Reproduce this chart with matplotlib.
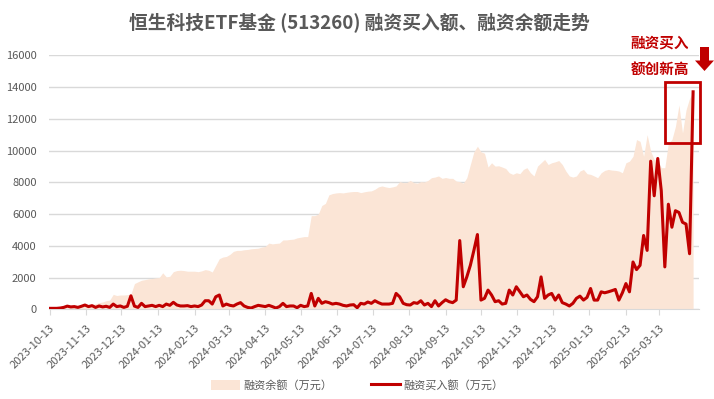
import numpy as np
import pandas as pd
import matplotlib
matplotlib.use("Agg")
import matplotlib.pyplot as plt
import matplotlib.dates as mdates
from matplotlib.patches import Rectangle, Polygon

plt.rcParams['font.family'] = ['Noto Sans CJK SC', 'DejaVu Sans']

# 数据（每3天取一个点，从图中读取）
start_date = '2023-10-13'
balance = [  # 融资余额（万元）
    0, 20, 40, 60, 80, 100, 120, 150, 170, 210,
    230, 270, 310, 350, 420, 460, 540, 580, 940, 870,
    900, 900, 920, 960, 1620, 1730, 1830, 1870, 1920, 1940,
    1980, 2000, 2300, 2040, 2080, 2370, 2440, 2460, 2440, 2400,
    2400, 2400, 2370, 2420, 2500, 2460, 2350, 2770, 3190, 3290,
    3330, 3460, 3650, 3710, 3710, 3750, 3770, 3810, 3830, 3850,
    3920, 3960, 4170, 4120, 4150, 4170, 4370, 4370, 4400, 4420,
    4500, 4540, 4580, 4580, 5900, 5900, 6000, 6540, 6670, 7210,
    7290, 7330, 7350, 7330, 7370, 7400, 7420, 7420, 7350, 7400,
    7440, 7460, 7560, 7710, 7770, 7710, 7670, 7710, 7770, 8040,
    7980, 7980, 8120, 7980, 7940, 8040, 8020, 8120, 8290, 8330,
    8400, 8250, 8300, 8250, 8250, 8080, 8040, 7940, 8290, 9120,
    9920, 10270, 9920, 9830, 8960, 9230, 9020, 9040, 8960, 8870,
    8600, 8500, 8600, 8540, 8810, 8920, 8600, 8400, 9020, 9230,
    9440, 9120, 9230, 9290, 9370, 9120, 8710, 8400, 8330, 8400,
    8710, 8810, 8540, 8500, 8400, 8290, 8600, 8750, 8810, 8770,
    8750, 8710, 8600, 9230, 9330, 9640, 10690, 10580, 9640, 11000,
    9960, 9440, 9370, 8920, 8920, 10480, 10690, 11520, 12870, 11100,
    12560, 13290, 13700,
]
buy = [  # 融资买入额（万元）
    60, 60, 60, 80, 120, 200, 150, 170, 120, 190,
    270, 170, 230, 120, 210, 150, 190, 120, 330, 170,
    210, 120, 190, 850, 200, 120, 375, 170, 210, 250,
    170, 250, 170, 330, 250, 440, 270, 210, 210, 230,
    170, 210, 170, 270, 540, 540, 330, 790, 900, 210,
    330, 250, 210, 330, 420, 210, 120, 80, 170, 250,
    210, 170, 250, 170, 80, 170, 375, 170, 210, 210,
    100, 250, 170, 210, 1000, 210, 690, 375, 480, 420,
    330, 375, 330, 250, 210, 270, 290, 100, 375, 330,
    460, 375, 540, 420, 330, 330, 330, 375, 1000, 790,
    375, 290, 270, 420, 375, 540, 270, 375, 170, 540,
    210, 420, 600, 480, 420, 580, 4330, 1420, 2040, 2770,
    3710, 4710, 580, 690, 1210, 900, 480, 540, 330, 375,
    1210, 900, 1420, 1100, 790, 900, 625, 480, 790, 2040,
    690, 900, 1000, 580, 900, 420, 330, 210, 375, 690,
    830, 580, 750, 1310, 580, 580, 1100, 1040, 1100, 1170,
    1250, 580, 1040, 1620, 1100, 2980, 2500, 2770, 4650, 3710,
    9330, 7150, 9500, 7460, 2670, 6620, 5170, 6210, 6100, 5480,
    5370, 3500, 13700,
]
title = '恒生科技ETF基金 (513260) 融资买入额、融资余额走势'
label_balance = '融资余额（万元）'
label_buy = '融资买入额（万元）'

dates = pd.date_range(start_date, periods=len(balance), freq='3D')
tick_dates = pd.date_range(start_date, '2025-03-13', freq=pd.DateOffset(months=1))

AREA = '#fbe5d6'
RED = '#c00000'
GRAY = '#595959'
GRID = '#d9d9d9'

fig = plt.figure(figsize=(7.14, 3.99), dpi=100)
ax = fig.add_axes([49 / 714, 1 - 309.3 / 399, 650 / 714, (309.3 - 55.3) / 399])

ax.fill_between(dates, balance, 0, color=AREA, lw=0, label=label_balance, zorder=1)
ax.plot(dates, buy, color=RED, lw=2.2, label=label_buy, zorder=3)

ax.set_ylim(0, 16000)
ax.set_yticks(np.arange(0, 16001, 2000))
t0 = pd.Timestamp(start_date)
ax.set_xlim(t0 - pd.Timedelta(days=0.5), t0 + pd.Timedelta(days=551))
ax.set_xticks(tick_dates)
ax.xaxis.set_major_formatter(mdates.DateFormatter('%Y-%m-%d'))

ax.grid(axis='y', color=GRID, lw=1, zorder=0)
ax.set_axisbelow(True)
for s in ['top', 'right', 'left']:
    ax.spines[s].set_visible(False)
ax.spines['bottom'].set_color(GRID)
ax.tick_params(axis='y', length=0, pad=9, labelsize=8, labelcolor=GRAY)
ax.tick_params(axis='x', length=4, color=GRID, pad=6, labelsize=8, labelcolor=GRAY)
for lab in ax.get_xticklabels():
    lab.set_rotation(45)
    lab.set_ha('right')
    lab.set_va('top')
    lab.set_rotation_mode('anchor')

fig.text(359 / 714, 1 - 22 / 399, title, ha='center', va='center',
         fontsize=13.5, fontweight='bold', color=GRAY)

# 标注：红框 + 文字 + 箭头
box_x0 = t0 + pd.Timedelta(days=522)
ax.add_patch(Rectangle((mdates.date2num(box_x0), 10480), 30, 14330 - 10480,
                       fill=False, ec=RED, lw=2, clip_on=False, zorder=5))
fig.text(660 / 714, 1 - 43 / 399, '融资买入', ha='center', va='center',
         fontsize=10.5, fontweight='bold', color=RED)
fig.text(660 / 714, 1 - 69 / 399, '额创新高', ha='center', va='center',
         fontsize=10.5, fontweight='bold', color=RED)
arrow_px = [(700, 47), (709, 47), (709, 60.5), (714, 60.5), (704.5, 71),
            (695, 60.5), (700, 60.5)]
fig.add_artist(Polygon([(x / 714, 1 - y / 399) for x, y in arrow_px],
                       closed=True, transform=fig.transFigure, fc=RED, ec='none'))

fig.legend(loc='center', bbox_to_anchor=(0.5, 1 - 385 / 399), ncol=2, frameon=False,
           fontsize=8, labelcolor=GRAY, handlelength=2.6, handleheight=1.0,
           columnspacing=3.5, handletextpad=0.3)

fig.savefig('out.png', dpi=100)
